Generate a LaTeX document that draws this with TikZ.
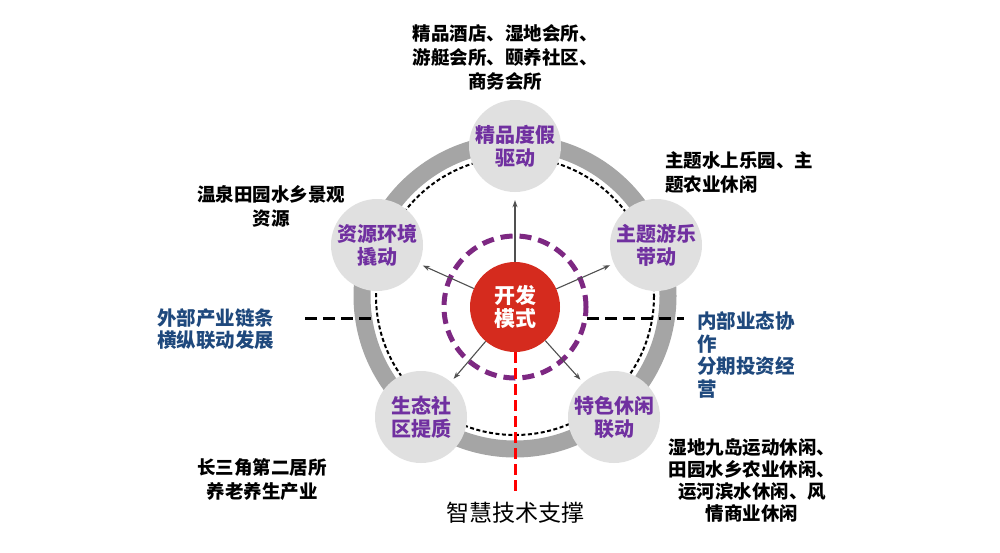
\documentclass[tikz,border=0pt]{standalone}
\usepackage{fontspec}
\setmainfont{Noto Sans CJK SC}
\usetikzlibrary{arrows.meta}
\definecolor{ringgray}{RGB}{165,165,165}
\definecolor{bubble}{RGB}{224,224,224}
\definecolor{txtpurple}{RGB}{112,48,160}
\definecolor{dashpurple}{RGB}{125,40,130}
\definecolor{corered}{RGB}{213,43,30}
\definecolor{txtblue}{RGB}{31,73,125}
\definecolor{arrgray}{RGB}{80,80,80}
\tikzset{
  bubblenode/.style={circle,fill=bubble,minimum size=92pt,inner sep=0pt,align=center,
    font=\fontsize{20}{23}\selectfont\bfseries,text=txtpurple},
  corenode/.style={circle,fill=corered,minimum size=90pt,inner sep=0pt,align=center,
    font=\fontsize{21}{23}\selectfont\bfseries,text=white},
  blacktxt/.style={inner sep=0pt,font=\fontsize{18.5}{24}\selectfont\bfseries,text=black},
  bluetxt/.style={inner sep=0pt,font=\fontsize{19.5}{22.5}\selectfont\bfseries,text=txtblue,align=left},
  arr/.style={draw=arrgray,line width=1.1pt,-{Stealth[length=7pt,width=5pt]}},
  bdash/.style={draw=black,line width=3pt,dash pattern=on 12pt off 6pt},
  rdash/.style={draw=red,line width=3pt,dash pattern=on 11pt off 5pt},
}
\begin{document}
\begin{tikzpicture}[x=1pt,y=-1pt]
\useasboundingbox[fill=white] (0,0) rectangle (1000,552);
\coordinate (c) at (515,296);
% ring
\draw[ringgray,line width=17pt] (c) circle[radius=153];
\draw[black,line width=2pt,dash pattern=on 4pt off 2.5pt] (c) circle[radius=139];
% purple dashed ring
\node[circle,draw=dashpurple,line width=5pt,dash pattern=on 12pt off 7pt,minimum size=142pt,inner sep=0pt] (pring) at (515,307) {};
% bubbles
\node[bubblenode] (top) at (515,146) {精品度假\\驱动};
\node[bubblenode] (left) at (377,245) {资源环境\\撬动};
\node[bubblenode] (right) at (656,245) {主题游乐\\带动};
\node[bubblenode] (bl) at (421,417) {生态社\\区提质};
\node[bubblenode] (br) at (614,417) {特色休闲\\联动};
% core
\node[corenode] (core) at (515,307) {开发\\模式};
% arrows
\draw[arr,shorten >=8pt] (core) -- (top);
\draw[arr,shorten >=4pt] (core) -- (left);
\draw[arr,shorten >=4pt] (core) -- (right);
\draw[arr,shorten >=4pt] (core) -- (bl);
\draw[arr,shorten >=4pt] (core) -- (br);
% dashed lines
\coordinate (la) at (305,318);
\coordinate (lb) at (372,318);
\coordinate (ra) at (587,318);
\coordinate (rb) at (684,318);
\coordinate (rd) at (515,492);
\draw[bdash] (la) -- (lb);
\draw[bdash] (ra) -- (rb);
\draw[rdash] (core.south) -- (rd);
% texts
\node[blacktxt,align=center] (ttop) at (505,57) {精品酒店、湿地会所、\\游艇会所、颐养社区、\\商务会所};
\node[blacktxt,align=left,anchor=west] (tright) at (665,172) {主题水上乐园、主\\题农业休闲};
\node[blacktxt,align=center] (tleft) at (271,206) {温泉田园水乡景观\\资源};
\node[blacktxt,align=center] (tbl) at (262,480) {长三角第二居所\\养老养生产业};
\node[blacktxt,align=center,font=\fontsize{18.5}{22}\selectfont\bfseries] (tbr) at (752,480) {湿地九岛运动休闲、\\田园水乡农业休闲、\\运河滨水休闲、风\\情商业休闲};
\node[bluetxt,anchor=west] (tlm) at (157,329) {外部产业链条\\横纵联动发展};
\node[bluetxt,anchor=west] (trm) at (697,355) {内部业态协\\作\\分期投资经\\营};
\node[inner sep=0pt,font=\fontsize{23}{26}\selectfont,text=black] (tbot) at (515,513) {智慧技术支撑};
\end{tikzpicture}
\end{document}
